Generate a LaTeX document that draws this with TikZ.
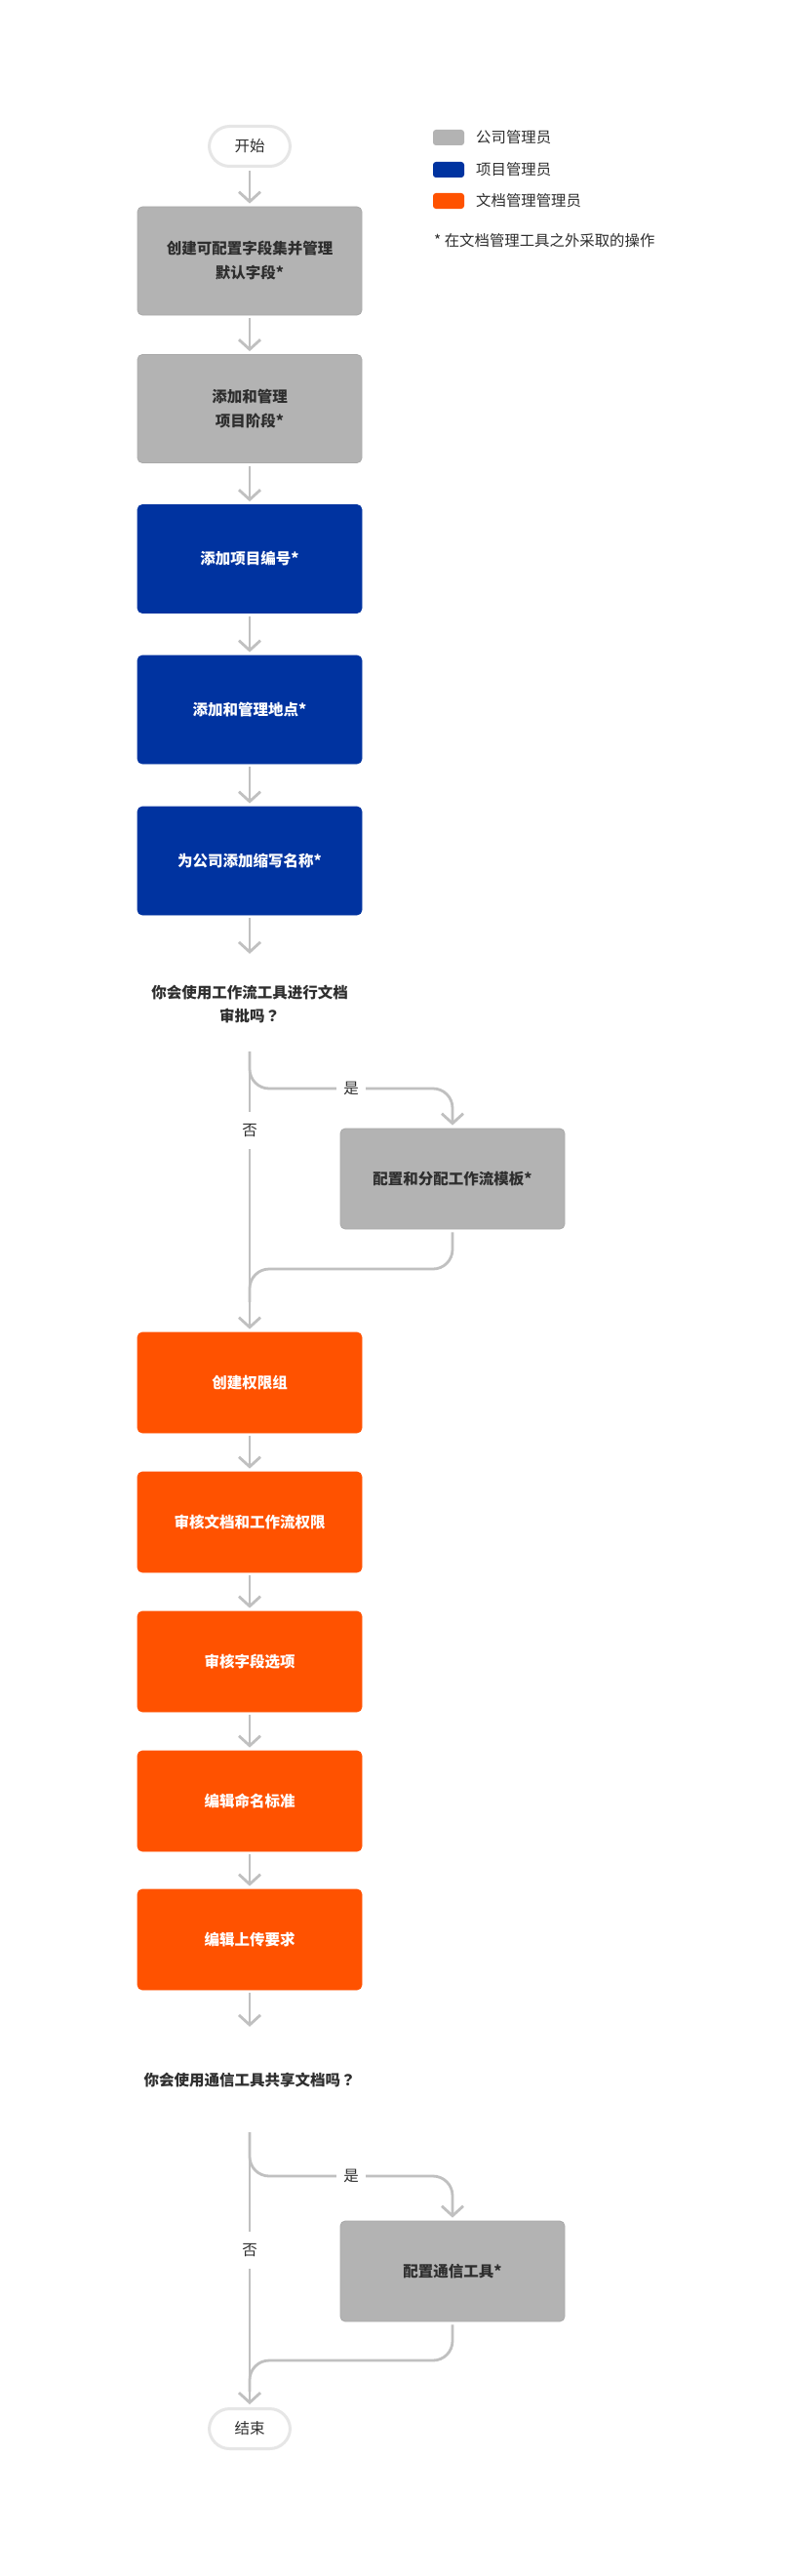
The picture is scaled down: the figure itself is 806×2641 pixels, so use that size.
\documentclass[tikz,border=0pt]{standalone}
\usepackage{fontspec}
\setmainfont{Noto Sans CJK SC}
\newfontfamily\cjktc{Noto Sans CJK TC}
\newcommand{\qmark}{{\cjktc ？}}
\usetikzlibrary{arrows.meta}
\definecolor{cgray}{HTML}{B3B3B3}
\definecolor{cgrayd}{HTML}{A9A9A9}
\definecolor{cblue}{HTML}{0033A0}
\definecolor{corange}{HTML}{FF5200}
\definecolor{ctext}{HTML}{2E2E2E}
\definecolor{cline}{HTML}{C0C0C0}
\definecolor{cterm}{HTML}{E6E6E6}
\tikzset{
  boxbase/.style={rounded corners=5pt, minimum width=230pt, align=center, inner sep=0pt,
    font=\bfseries\fontsize{15.5}{25}\selectfont},
  gbox/.style={boxbase, fill=cgray, draw=cgrayd, line width=0.8pt, text=ctext},
  bbox/.style={boxbase, fill=cblue, draw=cblue, line width=0.8pt, text=white},
  obox/.style={boxbase, fill=corange, draw=corange, line width=0.8pt, text=white, minimum height=103pt},
  term/.style={rounded corners=21pt, minimum width=83pt, minimum height=41pt, draw=cterm, line width=3pt,
    fill=white, text=ctext, inner sep=0pt, font=\fontsize{15.5}{20}\selectfont},
  qtext/.style={align=center, inner sep=0pt, text=ctext, font=\bfseries\fontsize{15.5}{24}\selectfont},
  lbl/.style={inner sep=0pt, text=ctext, font=\fontsize{15.5}{20}\selectfont},
  conn/.style={draw=cline, line width=2.8pt, -{Straight Barb[length=10pt,width=22pt]}, shorten >=3pt, shorten <=3pt},
  plain/.style={draw=cline, line width=2.8pt, rounded corners=20pt},
  swatch/.style={rounded corners=3pt, minimum width=32pt, minimum height=16pt, inner sep=0pt},
  legtext/.style={anchor=west, inner sep=0pt, text=ctext, font=\fontsize{15.4}{20}\selectfont}
}
\begin{document}
\begin{tikzpicture}[x=1pt,y=-1pt]
\useasboundingbox[fill=white] (0,0) rectangle (806,2641);

% legend
\node[swatch, fill=cgray] (lg1) at (460,141) {};
\node[legtext] (lt1) at (488,141) {公司管理员};
\node[swatch, fill=cblue] (lg2) at (460,174) {};
\node[legtext] (lt2) at (488,174) {项目管理员};
\node[swatch, fill=corange] (lg3) at (460,206) {};
\node[legtext] (lt3) at (488,206) {文档管理管理员};
\node[legtext] (fn) at (445,247) {* 在文档管理工具之外采取的操作};

% nodes
\node[term] (start) at (256,150) {开始};
\node[gbox, minimum height=111pt] (b1) at (256,267.5) {创建可配置字段集并管理\\默认字段*};
\node[gbox, minimum height=111pt] (b2) at (256,419) {添加和管理\\项目阶段*};
\node[bbox, minimum height=111pt] (b3) at (256,573) {添加项目编号*};
\node[bbox, minimum height=111pt] (b4) at (256,727.5) {添加和管理地点*};
\node[bbox, minimum height=111pt] (b5) at (256,882.5) {为公司添加缩写名称*};
\node[qtext, minimum height=98pt] (q1) at (256,1029) {你会使用工作流工具进行文档\\审批吗\qmark};
\node[lbl, minimum height=38pt] (no1) at (256,1159) {否};
\node[lbl, minimum width=30pt] (yes1) at (360,1116) {是};
\node[gbox, minimum height=103pt] (b6) at (464,1208.5) {配置和分配工作流模板*};
\coordinate (m1) at (256,1301);
\coordinate (m1e) at (256,1335);
\node[obox] (b7) at (256,1417.5) {创建权限组};
\node[obox] (b8) at (256,1560.5) {审核文档和工作流权限};
\node[obox] (b9) at (256,1703.5) {审核字段选项};
\node[obox] (b10) at (256,1846.5) {编辑命名标准};
\node[obox] (b11) at (256,1988.5) {编辑上传要求};
\node[qtext, minimum height=106pt] (q2) at (256,2133) {你会使用通信工具共享文档吗\qmark};
\node[lbl, minimum height=38pt] (no2) at (256,2307) {否};
\node[lbl, minimum width=30pt] (yes2) at (360,2231) {是};
\node[gbox, minimum height=103pt] (b12) at (464,2328.5) {配置通信工具*};
\coordinate (m2) at (256,2420);
\coordinate (m2e) at (256,2452);
\node[term] (end) at (256,2490) {结束};

% connectors
\draw[conn] (start) -- (b1);
\draw[conn] (b1) -- (b2);
\draw[conn] (b2) -- (b3);
\draw[conn] (b3) -- (b4);
\draw[conn] (b4) -- (b5);
\draw[conn, shorten >=2pt] (b5) -- (q1);
\draw[plain] (q1.south) -- (no1.north);
\draw[plain] (q1.south) |- (yes1.west);
\draw[conn, rounded corners=20pt, shorten <=0pt] (yes1.east) -| (b6.north);
\draw[conn, shorten <=0pt] (no1.south) -- (b7.north);
\draw[plain, shorten <=3pt] (b6.south) |- (m1) -- (m1e);
\draw[conn] (b7) -- (b8);
\draw[conn] (b8) -- (b9);
\draw[conn] (b9) -- (b10);
\draw[conn] (b10) -- (b11);
\draw[conn, shorten >=2pt] (b11) -- (q2);
\draw[plain] (q2.south) -- (no2.north);
\draw[plain] (q2.south) |- (yes2.west);
\draw[conn, rounded corners=20pt, shorten <=0pt] (yes2.east) -| (b12.north);
\draw[conn, shorten <=0pt] (no2.south) -- (end.north);
\draw[plain, shorten <=3pt] (b12.south) |- (m2) -- (m2e);
\end{tikzpicture}
\end{document}
